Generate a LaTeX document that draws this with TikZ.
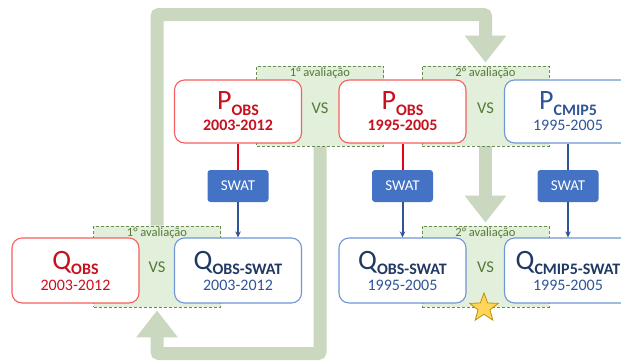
\documentclass[tikz,border=0pt]{standalone}
\usepackage{fontspec}
\setmainfont{Carlito}
\usetikzlibrary{arrows.meta,shapes.geometric,backgrounds}

\definecolor{arrowgreen}{RGB}{201,216,191}
\definecolor{evalfill}{RGB}{226,239,218}
\definecolor{evaldraw}{RGB}{106,140,82}
\definecolor{evaltext}{RGB}{84,122,56}
\definecolor{redline}{RGB}{245,95,95}
\definecolor{redtext}{RGB}{200,16,30}
\definecolor{blueline}{RGB}{112,150,214}
\definecolor{bluetext}{RGB}{47,85,151}
\definecolor{navytext}{RGB}{31,56,100}
\definecolor{swatblue}{RGB}{68,114,196}
\definecolor{connred}{RGB}{226,0,20}
\definecolor{connblue}{RGB}{47,85,151}
\definecolor{starfill}{RGB}{255,214,90}
\definecolor{stardraw}{RGB}{191,144,0}

\newcommand{\bigsym}[1]{{\fontsize{28}{28}\selectfont #1}}
\newcommand{\subsym}[1]{\raisebox{-5.5pt}{\fontsize{16}{16}\selectfont\bfseries #1}}

\tikzset{
  databox/.style={rectangle, rounded corners=10pt, line width=1.1pt, fill=white,
    minimum width=127pt, minimum height=63pt, inner sep=0pt, align=center,
    font=\fontsize{16}{21}\selectfont},
  obsbox/.style={databox, draw=redline, text=redtext},
  simbox/.style={databox, draw=blueline, text=bluetext},
  evalbox/.style={rectangle, draw=evaldraw, fill=evalfill, dash pattern=on 3pt off 2pt,
    line width=0.9pt, minimum width=127pt, minimum height=80pt, inner sep=0pt},
  evallabel/.style={font=\fontsize{12.5}{12.5}\selectfont, text=evaltext, inner sep=0pt, anchor=base},
  vslabel/.style={font=\fontsize{16.5}{16.5}\selectfont, text=evaltext, inner sep=0pt},
  swatbox/.style={rectangle, rounded corners=3pt, fill=swatblue, text=white,
    minimum width=61pt, minimum height=32pt, inner sep=0pt, font=\fontsize{15}{15}\selectfont},
  bigarrow/.style={draw=arrowgreen, line width=13pt, rounded corners=2pt,
    -{Triangle[width=40pt,length=27pt]}, shorten >=3pt},
  redconn/.style={draw=connred, line width=2pt},
  blueconn/.style={draw=connblue, line width=2pt, -{Stealth[length=6pt,width=5.5pt]}},
}

\begin{document}
\begin{tikzpicture}[x=1pt,y=-1pt]
\useasboundingbox (0,0) rectangle (621,360);
\clip (0,0) rectangle (621,360);

% evaluation regions
\node[evalbox] (pe1) at (320,106) {};
\node[evalbox] (pe2) at (485.5,106) {};
\node[evalbox, minimum height=81pt] (qe1) at (157,266.5) {};
\node[evalbox, minimum height=81pt] (qe2) at (485.5,266.5) {};

\node[evallabel] (pe1l) at ([yshift=-11pt]pe1.north) {1° avaliação};
\node[evallabel] (pe2l) at ([yshift=-11pt]pe2.north) {2° avaliação};
\node[evallabel] (qe1l) at ([yshift=-10.5pt]qe1.north) {1° avaliação};
\node[evallabel] (qe2l) at ([yshift=-10.5pt]qe2.north) {2° avaliação};

% data boxes
\node[obsbox] (pobsA) at (238,111.5) {\bigsym{P}\subsym{OBS}\\{\bfseries 2003-2012}};
\node[obsbox] (pobsB) at (402.5,111.5) {\bigsym{P}\subsym{OBS}\\{\bfseries 1995-2005}};
\node[simbox] (pcmip) at (568,111.5) {\bigsym{P}\subsym{CMIP5}\\1995-2005};

\node[obsbox, minimum height=65pt] (qobs) at (75.5,270.5) {\bigsym{Q}\subsym{OBS}\\2003-2012};
\node[simbox, minimum height=65pt] (qswatA) at (238,270.5)
  {{\color{navytext}\bigsym{Q}\subsym{OBS-SWAT}}\\2003-2012};
\node[simbox, minimum height=65pt] (qswatB) at (402.5,270.5)
  {{\color{navytext}\bigsym{Q}\subsym{OBS-SWAT}}\\1995-2005};
\node[simbox, minimum height=65pt] (qcmip) at (568,270.5)
  {{\color{navytext}\bigsym{Q}\subsym{CMIP5-SWAT}}\\1995-2005};

% VS labels
\node[vslabel] (vs1) at (320,108) {VS};
\node[vslabel] (vs2) at (485.5,108) {VS};
\node[vslabel] (vs3) at (157,267.5) {VS};
\node[vslabel] (vs4) at (485.5,267.5) {VS};

% SWAT boxes
\node[swatbox] (swatA) at (238,186) {SWAT};
\node[swatbox] (swatB) at (402.5,186) {SWAT};
\node[swatbox] (swatC) at (568,186) {SWAT};

% connectors
\draw[redconn] (pobsA.south) -- (swatA.north);
\draw[redconn] (pobsB.south) -- (swatB.north);
\draw[connblue, line width=2pt] (pcmip.south) -- (swatC.north);
\draw[blueconn] (swatA.south) -- (qswatA.north);
\draw[blueconn] (swatB.south) -- (qswatB.north);
\draw[blueconn] (swatC.south) -- (qcmip.north);

% star
\node[star, star points=5, star point ratio=2.4, fill=starfill, draw=stardraw,
  line width=0.8pt, minimum size=30pt, inner sep=0pt] (best) at (484,308) {};

% big feedback arrows
\coordinate (looptop) at (485.5,14.5);
\coordinate (loopbot) at (157,353.5);
\begin{pgfonlayer}{background}
\draw[bigarrow] (qe1.north) |- (looptop) -- (pe2.north);
\draw[bigarrow] (pe1.south) |- (loopbot) -- (qe1.south);
\draw[bigarrow] (pe2.south) -- (qe2.north);
\end{pgfonlayer}
\end{tikzpicture}
\end{document}
